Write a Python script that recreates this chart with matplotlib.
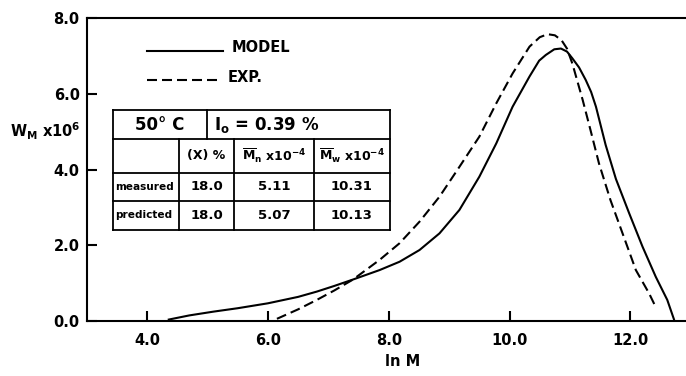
import matplotlib
matplotlib.use("Agg")
import matplotlib.pyplot as plt
from matplotlib.lines import Line2D

plt.rcParams['font.family'] = ['DejaVu Sans']
plt.rcParams['font.weight'] = 'bold'
plt.rcParams['mathtext.fontset'] = 'dejavusans'

# ---- data ----
model_x = [4.36, 4.7, 5.1, 5.5, 6.0, 6.5, 6.81, 7.1, 7.41, 7.85, 8.18, 8.51, 8.84, 9.17,
           9.5, 9.78, 10.05, 10.33, 10.49, 10.6, 10.74, 10.85, 10.95, 11.04, 11.15, 11.26,
           11.35, 11.43, 11.59, 11.76, 11.98, 12.2, 12.42, 12.61, 12.72]
model_y = [0.03, 0.14, 0.24, 0.33, 0.46, 0.63, 0.77, 0.92, 1.09, 1.34, 1.56, 1.87, 2.31, 2.93,
           3.81, 4.69, 5.66, 6.46, 6.88, 7.03, 7.18, 7.2, 7.12, 6.94, 6.7, 6.37,
           6.05, 5.66, 4.65, 3.75, 2.84, 1.96, 1.16, 0.55, 0.04]
exp_x = [6.15, 6.5, 6.81, 7.1, 7.41, 7.85, 8.18, 8.51, 8.84, 9.17, 9.5, 9.78, 10.05, 10.33,
         10.5, 10.63, 10.75, 10.86, 10.95, 11.04, 11.21, 11.34, 11.48, 11.67, 11.87, 12.09,
         12.31, 12.41]
exp_y = [0.05, 0.3, 0.55, 0.8, 1.09, 1.61, 2.05, 2.62, 3.28, 4.07, 4.87, 5.75, 6.54, 7.25,
         7.5, 7.58, 7.55, 7.42, 7.2, 6.8, 5.84, 5.04, 4.16, 3.19, 2.31, 1.34,
         0.72, 0.39]

xticks = [4.0, 6.0, 8.0, 10.0, 12.0]
yticks = [0.0, 2.0, 4.0, 6.0, 8.0]
xtick_labels = ['4.0', '6.0', '8.0', '10.0', '12.0']
ytick_labels = ['0.0', '2.0', '4.0', '6.0', '8.0']

legend_labels = ['MODEL', 'EXP.']
table_header = ['50° C', r'I$_\mathbf{o}$ = 0.39 %']
col_labels = ['(X) %', r'$\mathbf{\overline{M}_n}$ x10$^{\mathbf{-4}}$',
              r'$\mathbf{\overline{M}_w}$ x10$^{\mathbf{-4}}$']
row_labels = ['measured', 'predicted']
table_values = [['18.0', '5.11', '10.31'],
                ['18.0', '5.07', '10.13']]

W, H = 686, 376
fig = plt.figure(figsize=(W / 100, H / 100), dpi=100)
ax = fig.add_axes([86.6 / W, 1 - 320.7 / H, 1 - 86.6 / W, (320.7 - 18.3) / H])

ax.plot(model_x, model_y, color='black', lw=1.5, solid_joinstyle='round')
ax.plot(exp_x, exp_y, color='black', lw=1.5, linestyle=(0, (4.8, 2.4)))

ax.set_xlim(3.0, 12.92)
ax.set_ylim(0, 8.0)
ax.set_xticks(xticks)
ax.set_xticklabels(xtick_labels)
ax.set_yticks(yticks)
ax.set_yticklabels(ytick_labels)
ax.tick_params(axis='both', direction='in', length=7, width=1.5, labelsize=10.5)
ax.tick_params(axis='x', pad=9)
ax.tick_params(axis='y', pad=5)
for lab in ax.get_xticklabels() + ax.get_yticklabels():
    lab.set_fontweight('bold')
ax.spines['right'].set_visible(False)
for s in ['left', 'top', 'bottom']:
    ax.spines[s].set_linewidth(1.5)

def fx(px):
    return px / W

def fy(py):
    return 1 - py / H

# x label and y label
fig.text(fx(403), fy(362), 'ln M', ha='center', va='center', fontsize=10.5, fontweight='bold')
fig.text(fx(10), fy(131), r'$\mathbf{W_M}$ x10$^{\mathbf{6}}$', ha='left', va='center',
         fontsize=10.5, fontweight='bold')

# legend
fig.add_artist(Line2D([fx(147), fx(223)], [fy(50.7), fy(50.7)], color='black', lw=1.5))
fig.add_artist(Line2D([fx(147), fx(222)], [fy(80), fy(80)], color='black', lw=1.5,
                      linestyle=(0, (4.8, 2.4))))
fig.text(fx(232), fy(48), legend_labels[0], ha='left', va='center', fontsize=10.5, fontweight='bold')
fig.text(fx(228), fy(77), legend_labels[1], ha='left', va='center', fontsize=10.5, fontweight='bold')

# table
tl, tr = 113, 390
rows_y = [110, 139, 173, 201, 230]
cols_x = [113, 179, 234, 314, 390]
lw_t = 1.3
for yy in rows_y:
    fig.add_artist(Line2D([fx(tl), fx(tr)], [fy(yy), fy(yy)], color='black', lw=lw_t))
fig.add_artist(Line2D([fx(tl), fx(tl)], [fy(110), fy(230)], color='black', lw=lw_t))
fig.add_artist(Line2D([fx(tr), fx(tr)], [fy(110), fy(230)], color='black', lw=lw_t))
fig.add_artist(Line2D([fx(207), fx(207)], [fy(110), fy(139)], color='black', lw=lw_t))
for cx in cols_x[1:-1]:
    fig.add_artist(Line2D([fx(cx), fx(cx)], [fy(139), fy(230)], color='black', lw=lw_t))

fig.text(fx(160), fy(125), table_header[0], ha='center', va='center', fontsize=12, fontweight='bold')
fig.text(fx(214), fy(125), table_header[1], ha='left', va='center', fontsize=12, fontweight='bold')
for i, lab in enumerate(col_labels):
    x0, x1 = cols_x[i + 1], cols_x[i + 2]
    fig.text(fx((x0 + x1) / 2), fy(156), lab, ha='center', va='center', fontsize=9,
             fontweight='bold')
for r, rl in enumerate(row_labels):
    yc = (rows_y[r + 2] + rows_y[r + 3]) / 2
    fig.text(fx(115), fy(yc), rl, ha='left', va='center', fontsize=7.6, fontweight='bold')
    for c, v in enumerate(table_values[r]):
        x0, x1 = cols_x[c + 1], cols_x[c + 2]
        fig.text(fx((x0 + x1) / 2), fy(yc), v, ha='center', va='center', fontsize=9.5,
                 fontweight='bold')

fig.savefig('out.png', dpi=100)
